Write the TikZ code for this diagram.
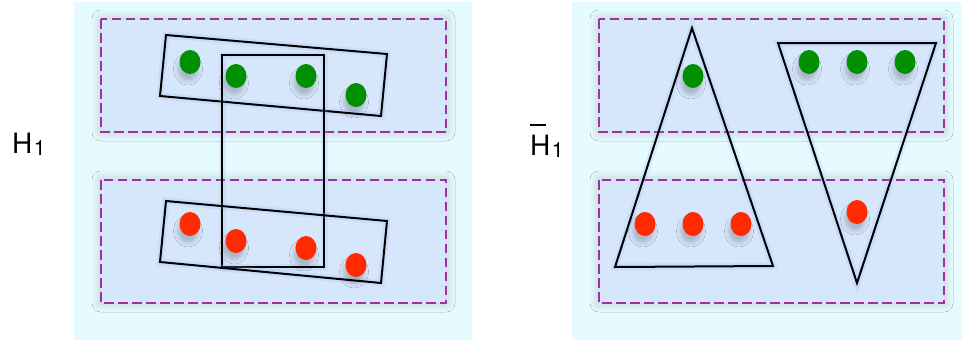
\documentclass[tikz,border=0pt]{standalone}
\usepackage{fontspec}
\setmainfont{TeX Gyre Heros}
\usepackage{tikz}
\usetikzlibrary{shapes.geometric, shadows.blur}

\definecolor{panelcyan}{RGB}{230,251,255}
\definecolor{glowblue}{RGB}{150,180,240}
\definecolor{boxglow}{RGB}{214,230,251}
\definecolor{dashpurple}{RGB}{160,48,160}
\definecolor{dotgreen}{RGB}{0,144,0}
\definecolor{dotred}{RGB}{255,42,0}

\newcommand{\barH}{\ooalign{H\cr\rule[1.05em]{0.58em}{0.05em}\cr}}
\newcommand{\subone}{\kern1.5pt\raisebox{-0.15ex}{\fontsize{21}{21}\selectfont 1}}

\begin{document}
\begin{tikzpicture}[x=1pt, y=-1pt,
    panel/.style={fill=panelcyan, draw=none},
    group/.style={draw=dashpurple, line width=2pt, dash pattern=on 9.5pt off 4.5pt, blur shadow={shadow xshift=0pt, shadow yshift=0pt, shadow blur radius=9pt, shadow opacity=22, fill=boxglow}},
    hedge/.style={draw=black, line width=2pt, line join=miter, preaction={draw=glowblue, line width=7pt, opacity=0.2}},
    dot/.style={ellipse, minimum width=21pt, minimum height=24pt, inner sep=0pt, blur shadow={shadow xshift=-2pt, shadow yshift=-7pt, shadow blur radius=4pt, shadow opacity=20, fill=glowblue!85!black}},
    gdot/.style={dot, fill=dotgreen},
    rdot/.style={dot, fill=dotred},
    lbl/.style={font=\fontsize{28}{32}\selectfont, inner sep=0pt},
]
    \useasboundingbox (0,0) rectangle (962,340);

    % backgrounds
    \fill[panel] (74,2) rectangle (472,340);
    \fill[panel] (572,2) rectangle (962,340);

    % colour classes
    \draw[group] (101,19) rectangle (446,132);
    \draw[group] (101,180) rectangle (446,303);
    \draw[group] (599,19) rectangle (944,132);
    \draw[group] (599,180) rectangle (944,303);

    % hyperedges of H_1
    \draw[hedge] (166,35) -- (387,54) -- (381,116) -- (160,96) -- cycle;
    \draw[hedge] (222,55) rectangle (324,267);
    \draw[hedge] (166,201) -- (387,221) -- (381,283) -- (160,262) -- cycle;

    % hyperedges of the complement
    \draw[hedge] (692,28) -- (773,266) -- (615,267) -- cycle;
    \draw[hedge] (778,43) -- (936,43) -- (857,283) -- cycle;

    % vertices
    \node[gdot] (lg1) at (190,62) {};
    \node[gdot] (lg2) at (236,76) {};
    \node[gdot] (lg3) at (306,76) {};
    \node[gdot] (lg4) at (356,95) {};
    \node[rdot] (lr1) at (190,224) {};
    \node[rdot] (lr2) at (236,241) {};
    \node[rdot] (lr3) at (306,248) {};
    \node[rdot] (lr4) at (356,265) {};

    \node[gdot] (rg1) at (693,76) {};
    \node[gdot] (rg2) at (809,62) {};
    \node[gdot] (rg3) at (857,62) {};
    \node[gdot] (rg4) at (905,62) {};
    \node[rdot] (rr1) at (645,224) {};
    \node[rdot] (rr2) at (693,224) {};
    \node[rdot] (rr3) at (741,224) {};
    \node[rdot] (rr4) at (857,212) {};

    % labels
    \node[lbl, anchor=base west] (hone) at (12,153) {H\subone};
    \node[lbl, anchor=base west] (hbar) at (530,155) {\barH\subone};
\end{tikzpicture}
\end{document}
